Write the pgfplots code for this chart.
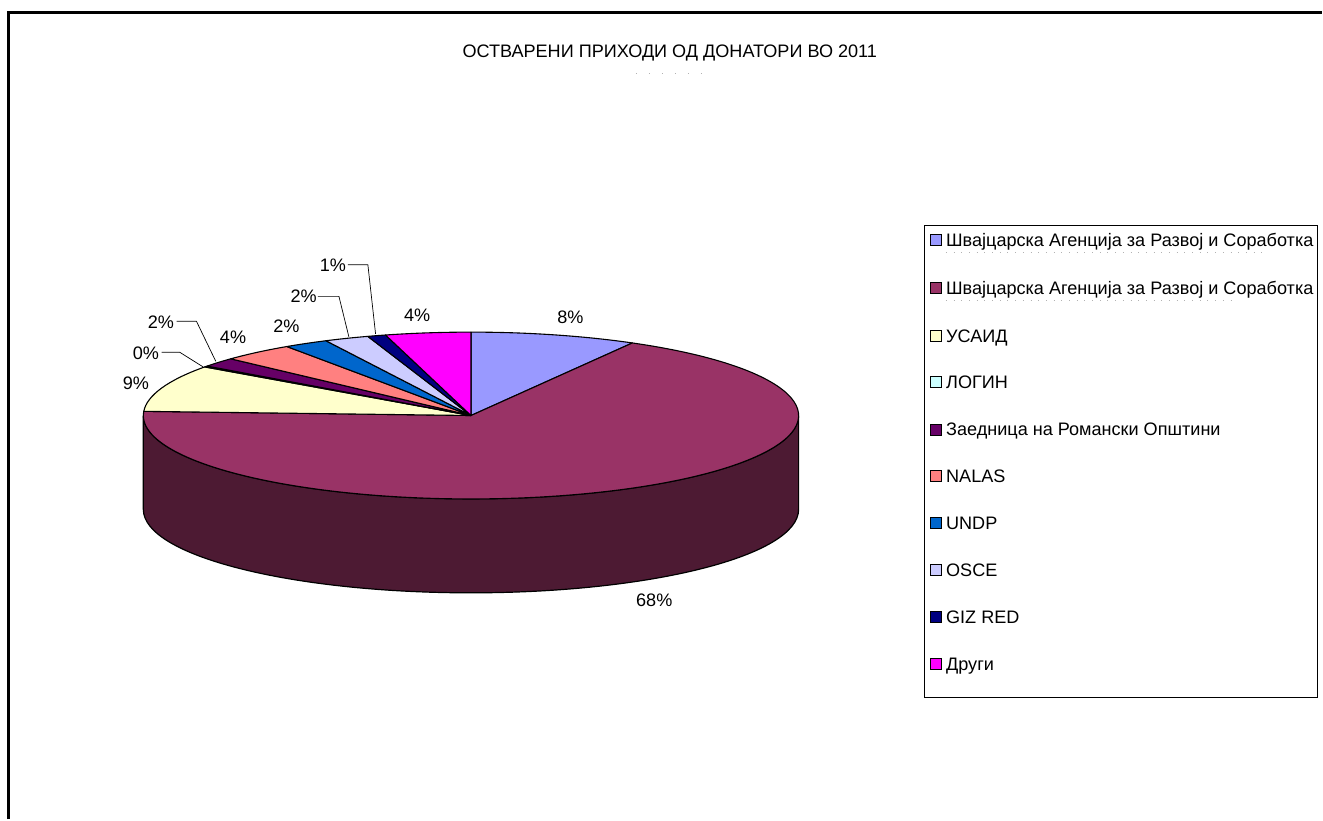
\documentclass[border=0pt]{standalone}
\usepackage{pgfplots}
\pgfplotsset{compat=1.18}
\usepackage{pgfplotstable}
\usepackage{fontspec}
\setmainfont{Liberation Sans}

\definecolor{c0}{HTML}{9999FF}
\definecolor{c1}{HTML}{993366}
\definecolor{c2}{HTML}{FFFFCC}
\definecolor{c3}{HTML}{CCFFFF}
\definecolor{c4}{HTML}{660066}
\definecolor{c5}{HTML}{FF8080}
\definecolor{c6}{HTML}{0066CC}
\definecolor{c7}{HTML}{CCCCFF}
\definecolor{c8}{HTML}{000080}
\definecolor{c9}{HTML}{FF00FF}
\definecolor{sidec}{HTML}{4D1A33}

% share of each donor (percent), label position (x, y in axis units)
\pgfplotstableread{
value lx ly
8.2 571 502.7
67.6 655 219.3
9.1 136 436
0.2 146 466
1.8 161 497.3
3.6 233.3 482.7
2.2 286.7 493.3
2.2 304 523.3
0.9 333.3 554
4.2 417.7 504
}\piedata

\tikzset{txt/.style={font=\fontsize{18.1}{21}\selectfont, inner sep=0pt}}

\newcommand{\legentry}[3]{%
  \filldraw[fill=c#1, line width=0.9pt] (axis cs:931.7,#2-5.5) rectangle (axis cs:942.7,#2+5.5);
  \node[txt, anchor=base west] at (axis cs:947,#2-6.4) {#3};
}

\begin{document}
\begin{tikzpicture}
\def\cum{0}
\pgfplotsforeachungrouped \i in {0,...,9}{%
  \pgfplotstablegetelem{\i}{value}\of\piedata
  \let\v\pgfplotsretval
  \pgfmathsetmacro\sa{90-3.6*\cum}%
  \pgfmathsetmacro\cum{\cum+\v}%
  \pgfmathsetmacro\ea{90-3.6*\cum}%
  \pgfmathtruncatemacro\lab{round(\v)}%
  \expandafter\xdef\csname sa\i\endcsname{\sa}%
  \expandafter\xdef\csname ea\i\endcsname{\ea}%
  \expandafter\xdef\csname lab\i\endcsname{\lab}%
  \pgfplotstablegetelem{\i}{lx}\of\piedata
  \expandafter\xdef\csname lx\i\endcsname{\pgfplotsretval}%
  \pgfplotstablegetelem{\i}{ly}\of\piedata
  \expandafter\xdef\csname ly\i\endcsname{\pgfplotsretval}%
}
\begin{axis}[x=1pt, y=1pt, xmin=0, xmax=1323, ymin=0, ymax=820,
  hide axis, clip=false, scale only axis]
\path (axis cs:0,0) rectangle (axis cs:1323,820);
% frame
\draw[line width=3pt] (axis cs:9,0) -- (axis cs:9,807.5) -- (axis cs:1323,807.5);
% title
\node[txt, anchor=base] at (axis cs:670.5,762.4) {ОСТВАРЕНИ ПРИХОДИ ОД ДОНАТОРИ ВО 2011};
\draw[gray!60, line width=0.8pt, dash pattern=on 0.8pt off 12.2pt] (axis cs:636.7,746.7) -- (axis cs:702,746.7);
% pie side
\filldraw[fill=sidec, line width=1.2pt] (axis cs:799.5,404) arc[start angle=0, end angle=-180, x radius=328pt, y radius=83.5pt] -- ++(0,-94pt) arc[start angle=180, end angle=360, x radius=328pt, y radius=83.5pt] -- cycle;
% pie top wedges and labels
\pgfplotsinvokeforeach{0,...,9}{%
  \filldraw[fill=c#1, line width=1.1pt, line join=round] (axis cs:471.5,404) -- ++(\csname sa#1\endcsname:328pt and 83.5pt) arc[start angle=\csname sa#1\endcsname, end angle=\csname ea#1\endcsname, x radius=328pt, y radius=83.5pt] -- cycle;
  \node[txt] at (axis cs:\csname lx#1\endcsname,\csname ly#1\endcsname) {\csname lab#1\endcsname\%};
}
% leader lines
\draw[line width=0.7pt] (axis cs:161.7,467.3) -- (axis cs:180,467.3) -- (axis cs:203.3,452.7);
\draw[line width=0.7pt] (axis cs:176.7,498.3) -- (axis cs:196.7,498.3) -- (axis cs:216,458.3);
\draw[line width=0.7pt] (axis cs:318.3,523.3) -- (axis cs:339.3,523.3) -- (axis cs:349.3,482.7);
\draw[line width=0.7pt] (axis cs:348.3,555) -- (axis cs:368.3,555) -- (axis cs:376,485.7);
% legend
\draw[line width=0.9pt] (axis cs:925.7,121.7) rectangle (axis cs:1319.3,594);
\legentry{0}{579.3}{Швајцарска Агенција за Развој и Соработка}
\legentry{1}{531.7}{Швајцарска Агенција за Развој и Соработка}
\legentry{2}{483.3}{УСАИД}
\legentry{3}{437.3}{ЛОГИН}
\legentry{4}{390}{Заедница на Романски Општини}
\legentry{5}{343.3}{NALAS}
\legentry{6}{296.7}{UNDP}
\legentry{7}{249.3}{OSCE}
\legentry{8}{202.3}{GIZ RED}
\legentry{9}{155}{Други}
\draw[gray!60, line width=0.7pt, dash pattern=on 0.7pt off 7pt] (axis cs:947,567.7) -- (axis cs:1267,567.7);
\draw[gray!60, line width=0.7pt, dash pattern=on 0.7pt off 7pt] (axis cs:947,519.3) -- (axis cs:1237,519.3);
\end{axis}
\end{tikzpicture}
\end{document}
